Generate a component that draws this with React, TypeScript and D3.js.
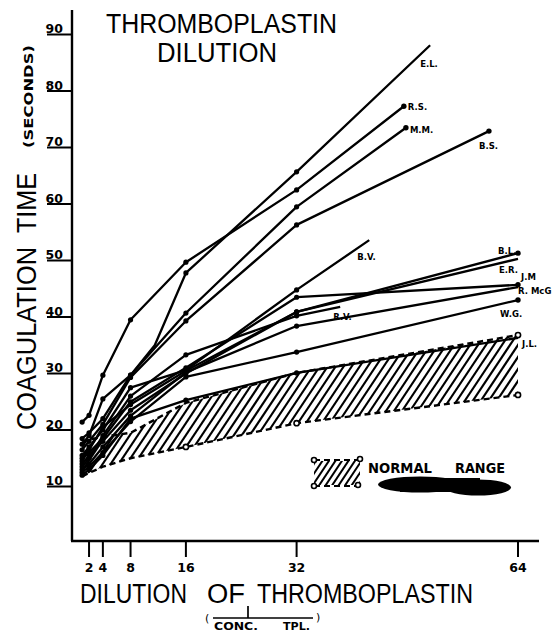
import React from "react";
import * as d3 from "d3";

// ---- data (dilution of thromboplastin, coagulation time in seconds) ----
const dilutionTicks = [2, 4, 8, 16, 32, 64];
const timeTicks = [10, 20, 30, 40, 50, 60, 70, 80, 90];

const seriesRS = [[1, 21.4], [2, 22.6], [4, 29.7], [8, 39.5], [16, 49.7], [32, 62.5], [47.5, 77.3]];
const seriesEL = [[1, 18.5], [2, 19.5], [4, 22], [8, 29.7], [11.5, 35], [16, 47.8], [32, 65.7], [51.3, 88.1]];
const seriesMM = [[1, 17.5], [2, 19], [4, 25.5], [8, 29.7], [16, 40.7], [32, 59.5], [47.8, 73.5]];
const seriesBS = [[1, 16.5], [2, 18], [4, 21], [8, 29.3], [16, 39.3], [32, 56.3], [59.8, 72.9]];
const seriesBV = [[1, 15.5], [2, 17], [4, 20], [8, 27.5], [16, 30.6], [32, 44.8], [42.5, 53.6]];
const seriesJM = [[1, 15], [2, 16], [4, 18.5], [8, 25], [16, 31], [32, 43.5], [64, 45.7]];
const seriesBL = [[1, 14.5], [2, 16.5], [4, 20.5], [8, 24.5], [16, 30.5], [32, 40.9], [64, 51.3]];
const seriesER = [[1, 14], [2, 15.5], [4, 18], [8, 23.5], [16, 30], [32, 40.9], [64, 50.3]];
const seriesRV = [[1, 13.5], [2, 15], [4, 19], [8, 26], [16, 33.3], [32, 40.2], [38.3, 41.8]];
const seriesRMcG = [[1, 13], [2, 14], [4, 17], [8, 22.5], [16, 30.2], [32, 38.4], [64, 45.3]];
const seriesWG = [[1, 12.5], [2, 13.5], [4, 16], [8, 21.5], [16, 29.4], [32, 33.8], [64, 43]];
const seriesJL = [[1, 12], [2, 13], [4, 15.5], [8, 22], [16, 25.3], [32, 30.1], [64, 36.3]];

const normalUpper = [[1, 18], [2, 18.3], [4, 18.8], [8, 19.5], [16, 24.8], [32, 30.1], [64, 36.8]];
const normalLower = [[1, 11.8], [2, 12.4], [4, 13.5], [8, 15], [16, 17], [32, 21.2], [64, 26.2]];

const seriesList = [
  { name: "E.L.", data: seriesEL, endDot: false },
  { name: "R.S.", data: seriesRS, endDot: true },
  { name: "M.M.", data: seriesMM, endDot: true },
  { name: "B.S.", data: seriesBS, endDot: true },
  { name: "B.V.", data: seriesBV, endDot: false },
  { name: "R.V.", data: seriesRV, endDot: false },
  { name: "B.L.", data: seriesBL, endDot: true },
  { name: "E.R.", data: seriesER, endDot: false },
  { name: "J.M", data: seriesJM, endDot: true },
  { name: "R. McG", data: seriesRMcG, endDot: false },
  { name: "W.G.", data: seriesWG, endDot: true },
  { name: "J.L.", data: seriesJL, endDot: false },
];

// label placement relative to the last point (layout only)
const labelOffsets: Record<string, [number, number]> = {
  "E.L.": [-10, 22],
  "R.S.": [4, 4],
  "M.M.": [4, 5],
  "B.S.": [-10, 18],
  "B.V.": [-12, 20],
  "R.V.": [-7, 13],
  "B.L.": [-20, 1],
  "E.R.": [-19, 14],
  "J.M": [3, -5],
  "R. McG": [0, 7],
  "W.G.": [-18, 17],
  "J.L.": [4, 9],
};

const standardDilutions = [1, 2, 4, 8, 16, 32, 64];

export default function App() {
  const x = d3.scaleLinear().domain([0, 64]).range([75.2, 518]);
  const y = d3.scaleLinear().domain([0, 90]).range([543, 34.5]);
  const line = d3
    .line<number[]>()
    .x((d) => x(d[0]))
    .y((d) => y(d[1]));

  const area = d3
    .area<number[]>()
    .x((d) => x(d[0]))
    .y0((_, i) => y(normalLower[i][1]))
    .y1((d) => y(d[1]));

  const hatchXs = d3.range(20, 560, 8);
  const legendHatch = d3.range(290, 380, 6.5);

  const bold = "'DejaVu Sans', sans-serif";
  const thin = "'Liberation Sans', Arial, sans-serif";

  return (
    <svg
      width={556}
      height={634}
      style={{ position: "absolute", left: 0, top: 0, background: "#fff" }}
    >
      <defs>
        <clipPath id="normalClip">
          <path d={area(normalUpper) || ""} />
        </clipPath>
        <clipPath id="legendClip">
          <rect x={314} y={461} width={46} height={24} />
        </clipPath>
      </defs>
      <rect x={0} y={0} width={556} height={634} fill="#fff" />

      {/* normal range hatching */}
      <g clipPath="url(#normalClip)" stroke="#000" strokeWidth={2.1}>
        {hatchXs.map((h, i) => (
          <line key={i} x1={h} y1={480} x2={h + 100} y2={330} />
        ))}
      </g>
      <path d={line(normalUpper) || ""} fill="none" stroke="#000" strokeWidth={2.4} strokeDasharray="6 4" />
      <path d={line(normalLower) || ""} fill="none" stroke="#000" strokeWidth={2.4} strokeDasharray="6 4" />
      {[normalLower[4], normalLower[5], normalLower[6], normalUpper[6]].map((d, i) => (
        <circle key={i} cx={x(d[0])} cy={y(d[1])} r={2.6} fill="#fff" stroke="#000" strokeWidth={1.6} />
      ))}

      {/* axes */}
      <line x1={72} y1={10} x2={72} y2={541} stroke="#000" strokeWidth={2.4} />
      <line x1={71} y1={541} x2={539} y2={541} stroke="#000" strokeWidth={2.4} />
      {timeTicks.map((t) => (
        <g key={t}>
          <line x1={47} x2={72} y1={y(t)} y2={y(t)} stroke="#000" strokeWidth={2} />
          <text
            x={63}
            y={y(t) - 1.5}
            textAnchor="end"
            fontFamily={bold}
            fontWeight="bold"
            fontSize={12.5}
          >
            {t}
          </text>
        </g>
      ))}
      {dilutionTicks.map((t) => (
        <g key={t}>
          <line x1={x(t)} x2={x(t)} y1={541} y2={557} stroke="#000" strokeWidth={2} />
          <text
            x={x(t)}
            y={572}
            textAnchor="middle"
            fontFamily={bold}
            fontWeight="bold"
            fontSize={12.5}
          >
            {t}
          </text>
        </g>
      ))}

      {/* series */}
      {seriesList.map((s) => {
        const last = s.data[s.data.length - 1];
        const off = labelOffsets[s.name];
        return (
          <g key={s.name}>
            <path d={line(s.data) || ""} fill="none" stroke="#000" strokeWidth={2.3} strokeLinejoin="round" />
            {s.data
              .filter((d) => standardDilutions.includes(d[0]) && d[0] !== 64)
              .map((d, i) => (
                <circle key={i} cx={x(d[0])} cy={y(d[1])} r={2.6} fill="#000" />
              ))}
            {s.endDot && <circle cx={x(last[0])} cy={y(last[1])} r={2.7} fill="#000" />}
            <text
              x={x(last[0]) + off[0]}
              y={y(last[1]) + off[1]}
              fontFamily={bold}
              fontWeight="bold"
              fontSize={8.5}
            >
              {s.name}
            </text>
          </g>
        );
      })}

      {/* titles */}
      <text x={106} y={33} fontFamily={thin} fontSize={27} textLength={231} lengthAdjust="spacingAndGlyphs">
        THROMBOPLASTIN
      </text>
      <text x={157} y={62} fontFamily={thin} fontSize={27} textLength={120} lengthAdjust="spacingAndGlyphs">
        DILUTION
      </text>

      <g transform="translate(36,430) rotate(-90)">
        <text x={0} y={0} fontFamily={thin} fontSize={27} textLength={183} lengthAdjust="spacingAndGlyphs">
          COAGULATION
        </text>
        <text x={197} y={0} fontFamily={thin} fontSize={27} textLength={60} lengthAdjust="spacingAndGlyphs">
          TIME
        </text>
      </g>
      <g transform="translate(33,148) rotate(-90)">
        <text x={0} y={0} fontFamily={bold} fontWeight="bold" fontSize={11.5} textLength={103} lengthAdjust="spacingAndGlyphs">
          (SECONDS)
        </text>
      </g>

      <text x={80} y={603} fontFamily={thin} fontSize={27} textLength={107} lengthAdjust="spacingAndGlyphs">
        DILUTION
      </text>
      <text x={207} y={603} fontFamily={thin} fontSize={27} textLength={38} lengthAdjust="spacingAndGlyphs">
        OF
      </text>
      <text x={257} y={603} fontFamily={thin} fontSize={27} textLength={216} lengthAdjust="spacingAndGlyphs">
        THROMBOPLASTIN
      </text>

      {/* 1 / CONC. TPL. */}
      <text x={205} y={622} fontFamily={bold} fontSize={11}>(</text>
      <text x={316} y={621} fontFamily={bold} fontSize={11}>)</text>
      <line x1={213} x2={313} y1={618} y2={618} stroke="#000" strokeWidth={1.7} />
      <line x1={248} x2={248} y1={606} y2={618} stroke="#000" strokeWidth={1.7} />
      <text x={214} y={630} fontFamily={bold} fontWeight="bold" fontSize={10} textLength={44} lengthAdjust="spacingAndGlyphs">
        CONC.
      </text>
      <text x={283} y={630} fontFamily={bold} fontWeight="bold" fontSize={10} textLength={27} lengthAdjust="spacingAndGlyphs">
        TPL.
      </text>

      {/* legend */}
      <g clipPath="url(#legendClip)" stroke="#000" strokeWidth={2}>
        {legendHatch.map((h, i) => (
          <line key={i} x1={h} y1={490} x2={h + 24} y2={454} />
        ))}
      </g>
      <line x1={314} x2={360} y1={460} y2={460} stroke="#000" strokeWidth={2.2} strokeDasharray="6 4" />
      <line x1={314} x2={360} y1={486} y2={486} stroke="#000" strokeWidth={2.2} strokeDasharray="6 4" />
      {[[314, 460], [360, 459], [314, 486], [358, 485]].map((p, i) => (
        <circle key={i} cx={p[0]} cy={p[1]} r={2.5} fill="#fff" stroke="#000" strokeWidth={1.6} />
      ))}
      <text x={368} y={473} fontFamily={bold} fontWeight="bold" fontSize={14} textLength={64} lengthAdjust="spacingAndGlyphs">
        NORMAL
      </text>
      <text x={455} y={473} fontFamily={bold} fontWeight="bold" fontSize={14} textLength={50} lengthAdjust="spacingAndGlyphs">
        RANGE
      </text>
      <ellipse cx={420} cy={484.5} rx={42} ry={8} fill="#000" />
      <ellipse cx={478} cy={487.5} rx={33} ry={8} fill="#000" />
      <rect x={400} y={478} width={80} height={14} fill="#000" />
    </svg>
  );
}
